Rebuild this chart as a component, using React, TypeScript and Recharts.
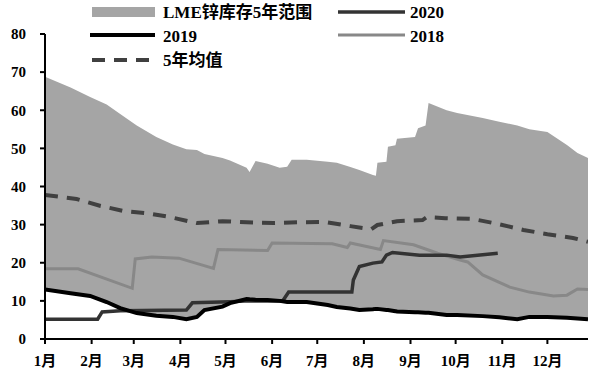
import React from "react";
import { ComposedChart, Area, Line, XAxis, YAxis } from "recharts";

const FONT = "'Liberation Serif', 'Times New Roman', 'Noto Sans CJK SC', serif";

// x = day of year
const monthTicks = [0, 31, 59, 90, 120, 151, 181, 212, 243, 273, 304, 334];
const monthLabels = ["1月", "2月", "3月", "4月", "5月", "6月", "7月", "8月", "9月", "10月", "11月", "12月"];
const yTicks = [0, 10, 20, 30, 40, 50, 60, 70, 80];

// 5-year range: lower edge is the 2019 curve
const rangeDays = [0, 17, 30, 41, 50, 61, 74, 85, 94, 101, 106, 118, 123, 134, 136, 140, 148, 156, 161, 164, 174, 188, 194, 203, 209, 218, 220, 221, 227, 228, 233, 234, 246, 248, 253, 255, 267, 274, 291, 302, 314, 322, 334, 347, 354, 361];
const low2019 = [13.0, 12.0, 11.3, 9.7, 8.1, 6.8, 6.1, 5.8, 5.2, 5.8, 7.6, 8.5, 9.4, 10.5, 10.4, 10.3, 10.2, 10.0, 9.7, 9.7, 9.7, 8.9, 8.4, 8.0, 7.6, 7.8, 7.9, 7.9, 7.6, 7.6, 7.3, 7.2, 7.0, 7.0, 6.9, 6.9, 6.3, 6.3, 6.0, 5.7, 5.2, 5.8, 5.8, 5.6, 5.4, 5.2];
const rangeHigh = [68.8, 66.0, 63.5, 61.5, 59.0, 56.0, 53.0, 51.0, 49.8, 49.6, 48.5, 47.5, 46.8, 44.9, 43.8, 46.7, 46.0, 44.9, 45.2, 47.0, 47.0, 46.5, 46.2, 45.1, 44.3, 43.0, 42.8, 46.2, 46.5, 50.4, 50.8, 52.5, 53.0, 55.3, 56.0, 61.9, 60.0, 59.3, 58.0, 57.0, 56.0, 55.0, 54.3, 50.9, 48.8, 47.5];

const days2020 = [0, 35, 38, 50, 94, 98, 123, 136, 158, 162, 204, 205, 209, 218, 224, 227, 231, 249, 267, 276, 301];
const vals2020 = [5.2, 5.2, 7.1, 7.4, 7.6, 9.5, 9.8, 10.0, 10.0, 12.3, 12.3, 15.5, 19.0, 19.9, 20.2, 22.0, 22.7, 22.0, 22.0, 21.5, 22.5];

const days2018 = [0, 22, 58, 60, 71, 89, 112, 115, 148, 151, 191, 201, 203, 223, 225, 245, 261, 276, 281, 291, 309, 322, 338, 347, 354, 361];
const vals2018 = [18.4, 18.4, 13.3, 21.0, 21.5, 21.2, 18.5, 23.5, 23.2, 25.2, 25.0, 24.0, 25.2, 23.5, 25.8, 24.7, 22.5, 20.7, 20.2, 16.8, 13.6, 12.3, 11.3, 11.5, 13.1, 13.0];

const daysAvg = [0, 21, 37, 52, 68, 83, 101, 118, 134, 152, 168, 186, 203, 217, 221, 234, 251, 254, 266, 284, 301, 318, 334, 351, 361];
const valsAvg = [37.8, 36.7, 34.9, 33.6, 33.0, 32.0, 30.4, 30.9, 30.6, 30.4, 30.6, 30.7, 29.6, 28.8, 29.9, 30.9, 31.2, 32.0, 31.7, 31.5, 30.2, 28.6, 27.5, 26.5, 25.5];

const rangeData = rangeDays.map((day, i) => ({ day, range: [low2019[i], rangeHigh[i]], y2019: low2019[i] }));
const data2020 = days2020.map((day, i) => ({ day, v: vals2020[i] }));
const data2018 = days2018.map((day, i) => ({ day, v: vals2018[i] }));
const dataAvg = daysAvg.map((day, i) => ({ day, v: valsAvg[i] }));

const tickStyle = { fill: "#000", fontSize: 15, fontWeight: 700, fontFamily: FONT };

function LegendBox() {
  const t = { fontSize: 17, fontWeight: 700, fontFamily: FONT, fill: "#000" } as const;
  return (
    <svg width={599} height={72} style={{ position: "absolute", left: 0, top: 0 }}>
      <rect x={92} y={7} width={63} height={10} fill="#a5a5a5" />
      <text x={163} y={18} {...t}>LME锌库存5年范围</text>
      <line x1={338} x2={405} y1={12} y2={12} stroke="#333" strokeWidth={3.5} />
      <text x={410} y={18} {...t}>2020</text>
      <line x1={90} x2={155} y1={35} y2={35} stroke="#000" strokeWidth={4} />
      <text x={163} y={42} {...t}>2019</text>
      <line x1={338} x2={405} y1={35} y2={35} stroke="#888" strokeWidth={3} />
      <text x={410} y={42} {...t}>2018</text>
      <line x1={92} x2={155} y1={60} y2={60} stroke="#404040" strokeWidth={4} strokeDasharray="13 9" />
      <text x={163} y={66} {...t}>5年均值</text>
    </svg>
  );
}

export default function App() {
  return (
    <div style={{ position: "absolute", left: 0, top: 0, width: 599, height: 375, background: "#fff" }}>
      <ComposedChart width={599} height={375} margin={{ top: 34, right: 11, bottom: 6, left: 0 }}>
        <XAxis
          dataKey="day"
          type="number"
          domain={[0, 361]}
          ticks={monthTicks}
          tickFormatter={(v: number) => monthLabels[monthTicks.indexOf(v)]}
          tick={tickStyle}
          tickSize={5}
          tickMargin={11}
          height={30}
          stroke="#000"
          strokeWidth={2}
          allowDataOverflow
        />
        <YAxis
          type="number"
          domain={[0, 80]}
          ticks={yTicks}
          tick={tickStyle}
          tickSize={5}
          tickMargin={14}
          width={45}
          stroke="#000"
          strokeWidth={2}
        />
        <Area data={rangeData} dataKey="range" type="linear" stroke="none" fill="#a5a5a5" fillOpacity={1} isAnimationActive={false} />
        <Line data={dataAvg} dataKey="v" type="linear" stroke="#404040" strokeWidth={4} strokeDasharray="13 9" dot={false} isAnimationActive={false} />
        <Line data={data2018} dataKey="v" type="linear" stroke="#888" strokeWidth={3} dot={false} isAnimationActive={false} />
        <Line data={data2020} dataKey="v" type="linear" stroke="#333" strokeWidth={3.5} dot={false} isAnimationActive={false} />
        <Line data={rangeData} dataKey="y2019" type="linear" stroke="#000" strokeWidth={4} dot={false} isAnimationActive={false} />
      </ComposedChart>
      <LegendBox />
    </div>
  );
}
